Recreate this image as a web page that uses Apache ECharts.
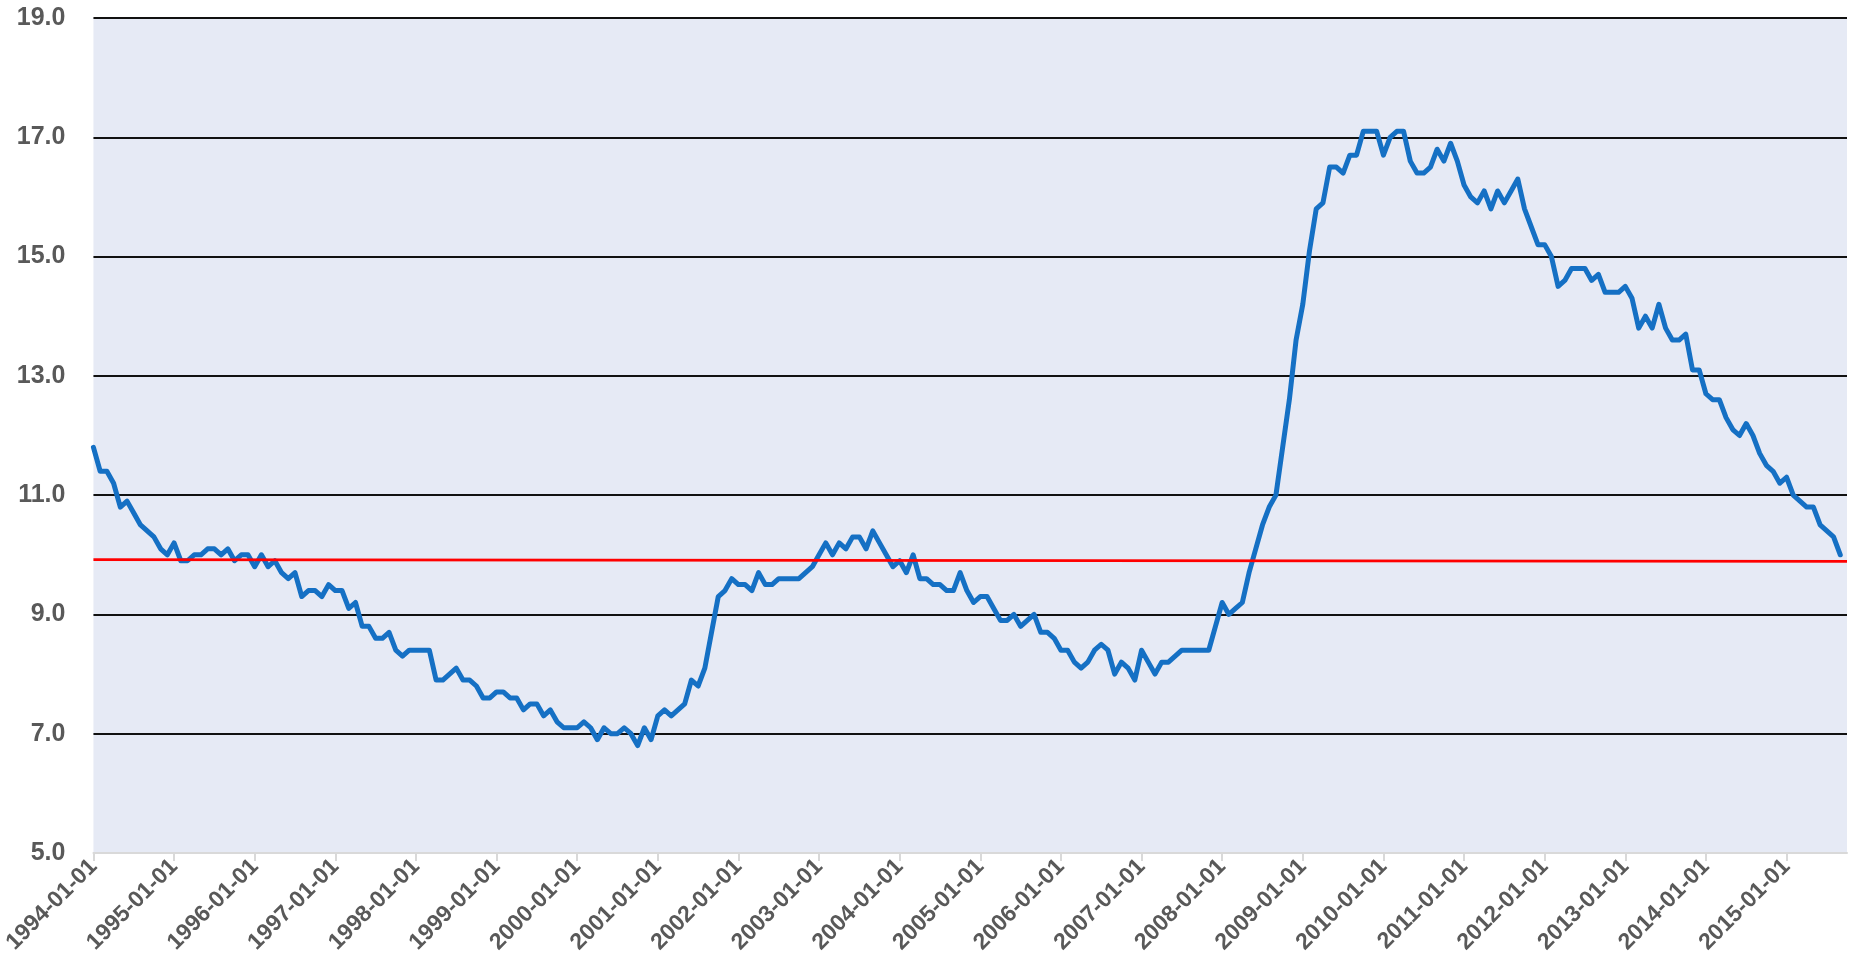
<!DOCTYPE html>
<html>
<head>
<meta charset="utf-8">
<script src="https://cdn.jsdelivr.net/npm/echarts@6/dist/echarts.min.js"></script>
<style>
  html, body { margin: 0; padding: 0; background: #fff; }
  #chart { width: 1850px; height: 967px; }
</style>
</head>
<body>
<div id="chart"></div>
<script>
// monthly values, one row per year, starting 1994-01
var firstYear = 1994;
var rates = [
  11.8, 11.4, 11.4, 11.2, 10.8, 10.9, 10.7, 10.5, 10.4, 10.3, 10.1, 10.0,
  10.2, 9.9, 9.9, 10.0, 10.0, 10.1, 10.1, 10.0, 10.1, 9.9, 10.0, 10.0,
  9.8, 10.0, 9.8, 9.9, 9.7, 9.6, 9.7, 9.3, 9.4, 9.4, 9.3, 9.5,
  9.4, 9.4, 9.1, 9.2, 8.8, 8.8, 8.6, 8.6, 8.7, 8.4, 8.3, 8.4,
  8.4, 8.4, 8.4, 7.9, 7.9, 8.0, 8.1, 7.9, 7.9, 7.8, 7.6, 7.6,
  7.7, 7.7, 7.6, 7.6, 7.4, 7.5, 7.5, 7.3, 7.4, 7.2, 7.1, 7.1,
  7.1, 7.2, 7.1, 6.9, 7.1, 7.0, 7.0, 7.1, 7.0, 6.8, 7.1, 6.9,
  7.3, 7.4, 7.3, 7.4, 7.5, 7.9, 7.8, 8.1, 8.7, 9.3, 9.4, 9.6,
  9.5, 9.5, 9.4, 9.7, 9.5, 9.5, 9.6, 9.6, 9.6, 9.6, 9.7, 9.8,
  10.0, 10.2, 10.0, 10.2, 10.1, 10.3, 10.3, 10.1, 10.4, 10.2, 10.0, 9.8,
  9.9, 9.7, 10.0, 9.6, 9.6, 9.5, 9.5, 9.4, 9.4, 9.7, 9.4, 9.2,
  9.3, 9.3, 9.1, 8.9, 8.9, 9.0, 8.8, 8.9, 9.0, 8.7, 8.7, 8.6,
  8.4, 8.4, 8.2, 8.1, 8.2, 8.4, 8.5, 8.4, 8.0, 8.2, 8.1, 7.9,
  8.4, 8.2, 8.0, 8.2, 8.2, 8.3, 8.4, 8.4, 8.4, 8.4, 8.4, 8.8,
  9.2, 9.0, 9.1, 9.2, 9.7, 10.1, 10.5, 10.8, 11.0, 11.8, 12.6, 13.6,
  14.2, 15.1, 15.8, 15.9, 16.5, 16.5, 16.4, 16.7, 16.7, 17.1, 17.1, 17.1,
  16.7, 17.0, 17.1, 17.1, 16.6, 16.4, 16.4, 16.5, 16.8, 16.6, 16.9, 16.6,
  16.2, 16.0, 15.9, 16.1, 15.8, 16.1, 15.9, 16.1, 16.3, 15.8, 15.5, 15.2,
  15.2, 15.0, 14.5, 14.6, 14.8, 14.8, 14.8, 14.6, 14.7, 14.4, 14.4, 14.4,
  14.5, 14.3, 13.8, 14.0, 13.8, 14.2, 13.8, 13.6, 13.6, 13.7, 13.1, 13.1,
  12.7, 12.6, 12.6, 12.3, 12.1, 12.0, 12.2, 12.0, 11.7, 11.5, 11.4, 11.2,
  11.3, 11.0, 10.9, 10.8, 10.8, 10.5, 10.4, 10.3, 10.0
];
// red reference line, value at left and right end
var trendStart = 9.92;
var trendEnd = 9.89;
var yTicks = { min: 5, max: 19, step: 2 };

// month labels, one extra month after the last value (axis runs to 2015-10)
var months = [];
for (var i = 0; i <= rates.length; i++) {
  var y = firstYear + Math.floor(i / 12);
  var m = (i % 12) + 1;
  months.push(y + '-' + (m < 10 ? '0' + m : m) + '-01');
}

var chart = echarts.init(document.getElementById('chart'));

var option = {
  animation: false,
  backgroundColor: '#ffffff',
  grid: {
    left: 93,
    right: 3,
    top: 18,
    bottom: 114,
    show: true,
    backgroundColor: '#E6EAF5',
    borderWidth: 0
  },
  xAxis: {
    type: 'category',
    data: months,
    boundaryGap: false,
    axisLine: { show: true, lineStyle: { color: '#d9d9d9', width: 2 } },
    axisTick: {
      show: true,
      length: 8,
      interval: function (idx) { return idx % 12 === 0; },
      lineStyle: { color: '#d9d9d9', width: 2 }
    },
    axisLabel: {
      interval: function (idx) { return idx % 12 === 0; },
      rotate: 45,
      margin: 10,
      color: '#595959',
      fontFamily: 'Liberation Sans, Arial, sans-serif',
      fontWeight: 'bold',
      fontSize: 23
    },
    splitLine: { show: false }
  },
  yAxis: {
    type: 'value',
    min: yTicks.min,
    max: yTicks.max,
    interval: yTicks.step,
    axisLine: { show: false },
    axisTick: { show: false },
    axisLabel: {
      margin: 28,
      color: '#595959',
      fontFamily: 'Liberation Sans, Arial, sans-serif',
      fontWeight: 'bold',
      fontSize: 25,
      formatter: function (v) { return v.toFixed(1); }
    },
    splitLine: {
      show: true,
      showMinLine: false,
      lineStyle: { color: '#111111', width: 2 }
    }
  },
  series: [
    {
      type: 'line',
      data: rates,
      showSymbol: false,
      symbol: 'none',
      lineStyle: { color: '#1570C4', width: 5, join: 'round', cap: 'round' },
      z: 3,
      markLine: {
        silent: true,
        symbol: 'none',
        label: { show: false },
        lineStyle: { color: '#FF0000', width: 2.8, type: 'solid' },
        data: [
          [
            { coord: [months[0], trendStart] },
            { coord: [months[months.length - 1], trendEnd] }
          ]
        ]
      }
    }
  ]
};

chart.setOption(option);
</script>
</body>
</html>
